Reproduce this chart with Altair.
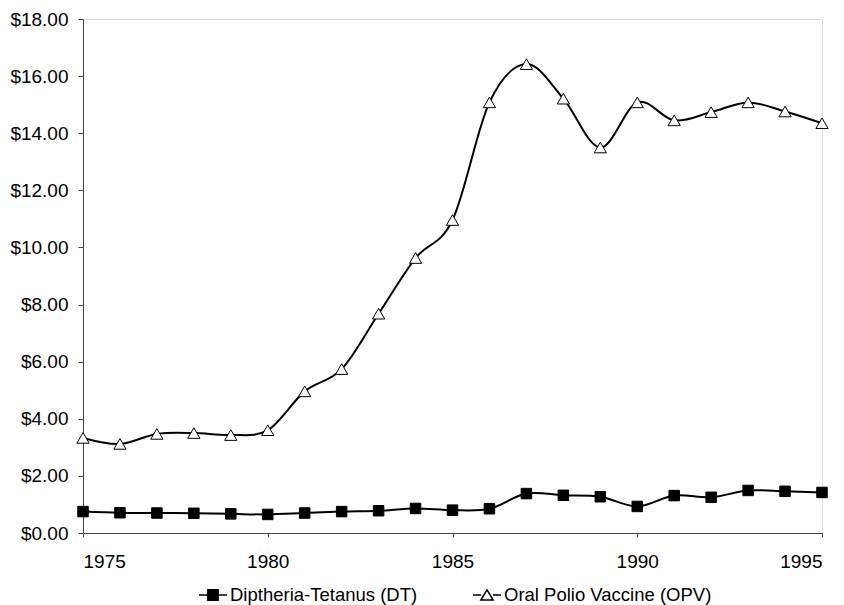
import altair as alt
import pandas as pd

years = list(range(1975, 1996))
dt_values = [0.75, 0.71, 0.70, 0.69, 0.67, 0.65, 0.70, 0.75, 0.78, 0.86, 0.80,
             0.85, 1.38, 1.32, 1.27, 0.93, 1.31, 1.25, 1.49, 1.46, 1.42]
opv_values = [3.33, 3.12, 3.47, 3.50, 3.43, 3.60, 4.96, 5.74, 7.68, 9.63, 10.96,
              15.08, 16.42, 15.21, 13.50, 15.08, 14.45, 14.74, 15.08, 14.76, 14.35]
series_names = ["Diptheria-Tetanus (DT)", "Oral Polio Vaccine (OPV)"]
x_ticks = [1975, 1980, 1985, 1990, 1995]
y_ticks = [0, 2, 4, 6, 8, 10, 12, 14, 16, 18]

df_dt = pd.DataFrame({"year": years, "price": dt_values, "series": series_names[0]})
df_opv = pd.DataFrame({"year": years, "price": opv_values, "series": series_names[1]})

FONT = "Liberation Sans"

x_enc = alt.X("year:Q",
              scale=alt.Scale(domain=[1975, 1995], nice=False, zero=False),
              axis=alt.Axis(values=x_ticks, format="d", title=None, grid=False,
                            tickSize=4, labelPadding=15, labelFontSize=19,
                            labelFont=FONT, labelColor="black",
                            domainColor="#444", tickColor="#444"))
y_enc = alt.Y("price:Q",
              scale=alt.Scale(domain=[0, 18], nice=False),
              axis=alt.Axis(values=y_ticks, format="$.2f", title=None, grid=False,
                            tickSize=5, labelPadding=10, labelFontSize=19,
                            labelFont=FONT, labelColor="black",
                            domainColor="#444", tickColor="#444"))

dt_path = "M-1,0H1M-0.37,-0.37H0.37V0.37H-0.37Z"
opv_path = "M-1,0H-0.42M0.42,0H1M0,-0.36L0.44,0.36L-0.44,0.36Z"

common_legend = dict(title=None, orient="none", direction="horizontal",
                     symbolSize=784, labelFontSize=18.5, labelFont=FONT,
                     labelColor="black", labelOffset=2, padding=0, labelLimit=0,
                     symbolStrokeColor="black", symbolStrokeWidth=1.5,
                     symbolOpacity=1)

dt_line = alt.Chart(df_dt).mark_line(interpolate="cardinal", color="black",
                                     strokeWidth=2).encode(x=x_enc, y=y_enc)
opv_line = alt.Chart(df_opv).mark_line(interpolate="cardinal", color="black",
                                       strokeWidth=2).encode(x=x_enc, y=y_enc)

dt_points = alt.Chart(df_dt).mark_point(
    shape="square", filled=True, opacity=1, stroke="black", strokeWidth=1,
    size=110).encode(
    x="year:Q", y="price:Q",
    color=alt.Color("series:N", scale=alt.Scale(domain=[series_names[0]], range=["black"]),
                    legend=alt.Legend(symbolType=dt_path, symbolFillColor="black",
                                      legendX=115, legendY=561, **common_legend)))

opv_points = alt.Chart(df_opv).mark_point(
    shape="triangle-up", filled=True, fill="white", opacity=1, strokeWidth=1,
    size=150).encode(
    x="year:Q", y="price:Q",
    stroke=alt.Stroke("series:N", scale=alt.Scale(domain=[series_names[1]], range=["black"]),
                      legend=alt.Legend(symbolType=opv_path, symbolFillColor="white",
                                        legendX=389, legendY=561, **common_legend)))

chart = alt.layer(dt_line, opv_line, dt_points, opv_points).properties(
    width=739, height=514,
    autosize=alt.AutoSizeParams(type="none"),
    padding={"left": 75, "top": 11, "right": 14, "bottom": 72},
).configure_view(stroke=None).configure(background="white")

chart.save("out.html", embed_options={"renderer": "svg", "actions": False})
